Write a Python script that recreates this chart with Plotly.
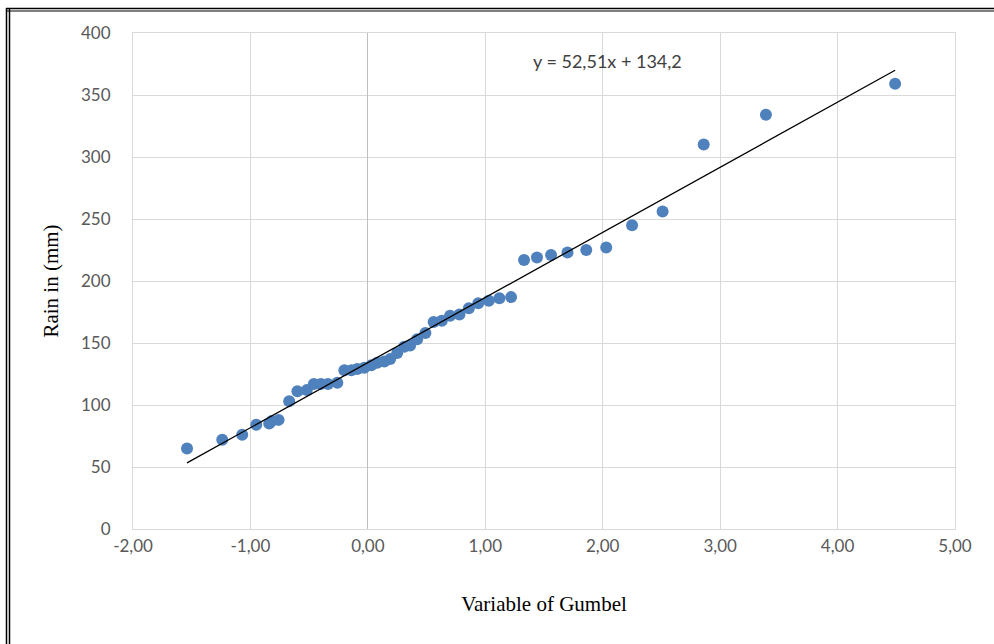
import plotly.graph_objects as go

gumbel_x = [-1.54, -1.24, -1.07, -0.95, -0.84, -0.82, -0.76, -0.67, -0.60, -0.52,
            -0.46, -0.40, -0.34, -0.26, -0.20, -0.14, -0.09, -0.03, 0.03, 0.08,
            0.14, 0.19, 0.25, 0.31, 0.36, 0.42, 0.49, 0.56, 0.63, 0.70,
            0.78, 0.86, 0.94, 1.03, 1.12, 1.22, 1.33, 1.44, 1.56, 1.70,
            1.86, 2.03, 2.25, 2.51, 2.86, 3.39, 4.49]
rain_mm = [65, 72, 76, 84, 85, 87, 88, 103, 111, 112,
           117, 117, 117, 118, 128, 128, 129, 130, 132, 134,
           135, 137, 142, 147, 148, 153, 158, 167, 168, 172,
           173, 178, 182, 184, 186, 187, 217, 219, 221, 223,
           225, 227, 245, 256, 310, 334, 359]

slope, intercept = 52.51, 134.2
trend_x = [min(gumbel_x), max(gumbel_x)]
trend_y = [slope * v + intercept for v in trend_x]

x_ticks = [-2, -1, 0, 1, 2, 3, 4, 5]
x_tick_labels = ["-2,00", "-1,00", "0,00", "1,00", "2,00", "3,00", "4,00", "5,00"]
y_ticks = [0, 50, 100, 150, 200, 250, 300, 350, 400]

fig = go.Figure()
fig.add_trace(go.Scatter(x=gumbel_x, y=rain_mm, mode="markers",
                         marker=dict(color="#4f81bd", size=12), showlegend=False))
fig.add_trace(go.Scatter(x=trend_x, y=trend_y, mode="lines",
                         line=dict(color="black", width=1.3), showlegend=False))

W, H = 994, 644
L, R, T, B = 133, 955, 33, 529

def px(xp):
    return (xp - L) / (R - L)

def py(yp):
    return (B - yp) / (B - T)

shapes = []
for xx in (6.5, 9.5):
    shapes.append(dict(type="line", xref="paper", yref="paper",
                       x0=px(xx), x1=px(xx), y0=py(8), y1=py(650),
                       line=dict(color="black", width=1.5)))
for yy in (8.5, 11):
    shapes.append(dict(type="line", xref="paper", yref="paper",
                       x0=px(6), x1=px(1000), y0=py(yy), y1=py(yy),
                       line=dict(color="black", width=1.5 if yy < 10 else 1)))

tick_font = dict(family="Lato, Open Sans, sans-serif", size=17, color="#595959")
title_font = dict(family="Liberation Serif, Times New Roman, serif", size=21, color="black")

fig.update_layout(
    width=W, height=H,
    margin=dict(l=L, r=W - R, t=T, b=H - B),
    paper_bgcolor="white", plot_bgcolor="white",
    shapes=shapes,
    xaxis=dict(range=[-2, 5], tickvals=x_ticks, ticktext=x_tick_labels,
               showgrid=True, gridcolor="#d9d9d9", gridwidth=1,
               zeroline=True, zerolinecolor="#bfbfbf", zerolinewidth=1,
               showline=True, linecolor="#d9d9d9", mirror=True,
               ticks="", ticklabelstandoff=2, tickfont=tick_font,
               title=dict(text="Variable of Gumbel", standoff=40, font=title_font)),
    yaxis=dict(range=[0, 400], tickvals=y_ticks,
               showgrid=True, gridcolor="#d9d9d9", gridwidth=1,
               zeroline=True, zerolinecolor="#bfbfbf", zerolinewidth=1.5,
               showline=True, linecolor="#d9d9d9", mirror=True,
               ticks="", ticklabelstandoff=18, tickfont=tick_font,
               title=dict(text="Rain in (mm)", standoff=16, font=title_font)),
    annotations=[dict(x=px(607), y=py(48), xref="paper", yref="paper",
                      text="y = 52,51x + 134,2", showarrow=False,
                      font=dict(family="Lato, Open Sans, sans-serif", size=18, color="#404040"))],
)

fig.write_html("out.html")
